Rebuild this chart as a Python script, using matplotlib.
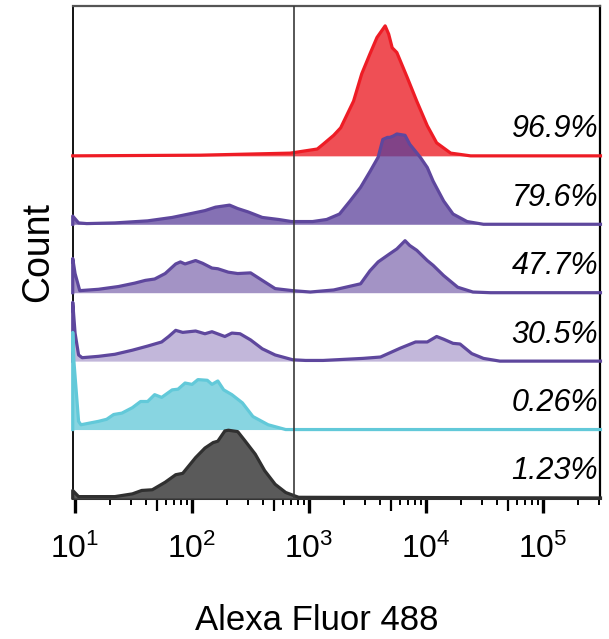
import numpy as np
import matplotlib.pyplot as plt
from matplotlib.ticker import FixedLocator, NullFormatter, LogFormatterSciNotation

plt.rcParams['font.family'] = ['Liberation Sans', 'DejaVu Sans']

# Histogram outlines: x as log10(Alexa Fluor 488), counts scaled to one row height
red_logx = [0.98, 2.07, 2.84, 3.07, 3.12, 3.21, 3.27, 3.38, 3.45, 3.52, 3.58, 3.65,
            3.68, 3.71, 3.75, 3.84, 3.92, 4.01, 4.09, 4.21, 4.38, 5.49]
red_cnt = [0.0, 0.01, 0.04, 0.10, 0.17, 0.30, 0.41, 0.80, 1.20, 1.49, 1.73, 1.90,
           1.78, 1.58, 1.51, 1.14, 0.80, 0.44, 0.19, 0.04, 0.0, 0.0]

pur1_logx = [0.98, 0.98, 1.03, 1.10, 1.34, 1.62, 1.83, 2.00, 2.11, 2.20, 2.32, 2.39,
             2.48, 2.60, 2.74, 2.85, 3.03, 3.15, 3.26, 3.35, 3.44, 3.52, 3.59, 3.63,
             3.67, 3.69, 3.72, 3.75, 3.82, 3.86, 3.95, 4.01, 4.06, 4.15, 4.23, 4.35,
             4.49, 5.49]
pur1_cnt = [0.0, 0.12, 0.02, 0.01, 0.02, 0.05, 0.10, 0.16, 0.20, 0.25, 0.28, 0.23,
            0.18, 0.10, 0.07, 0.04, 0.04, 0.07, 0.15, 0.34, 0.54, 0.77, 0.98, 1.24,
            1.27, 1.27, 1.29, 1.32, 1.30, 1.17, 0.98, 0.83, 0.63, 0.34, 0.15, 0.04,
            0.0, 0.0]

pur2_logx = [0.98, 0.98, 1.00, 1.04, 1.20, 1.37, 1.51, 1.60, 1.68, 1.77, 1.86, 1.90,
             1.94, 2.03, 2.09, 2.17, 2.22, 2.31, 2.39, 2.50, 2.60, 2.71, 2.86, 3.01,
             3.21, 3.44, 3.52, 3.59, 3.69, 3.75, 3.82, 3.86, 3.92, 4.01, 4.06, 4.15,
             4.27, 4.40, 4.55, 5.49]
pur2_cnt = [0.0, 0.50, 0.28, 0.03, 0.05, 0.09, 0.14, 0.18, 0.20, 0.28, 0.42, 0.45,
            0.42, 0.47, 0.43, 0.36, 0.35, 0.30, 0.28, 0.29, 0.18, 0.06, 0.03, 0.01,
            0.04, 0.13, 0.32, 0.45, 0.57, 0.64, 0.76, 0.69, 0.62, 0.47, 0.40, 0.25,
            0.08, 0.01, 0.0, 0.0]

pur3_logx = [0.98, 0.98, 1.00, 1.03, 1.06, 1.20, 1.34, 1.49, 1.62, 1.74, 1.80, 1.86,
             1.92, 2.03, 2.11, 2.17, 2.28, 2.34, 2.41, 2.50, 2.60, 2.71, 2.86, 2.97,
             3.12, 3.46, 3.61, 3.78, 3.91, 4.01, 4.09, 4.15, 4.23, 4.29, 4.39, 4.49,
             4.63, 5.49]
pur3_cnt = [0.0, 0.86, 0.41, 0.09, 0.05, 0.07, 0.10, 0.16, 0.22, 0.28, 0.36, 0.45,
            0.42, 0.44, 0.40, 0.43, 0.36, 0.41, 0.40, 0.31, 0.18, 0.09, 0.02, 0.01,
            0.01, 0.04, 0.06, 0.19, 0.28, 0.28, 0.36, 0.32, 0.26, 0.25, 0.11, 0.04,
            0.0, 0.0]

cyan_logx = [0.98, 0.98, 0.99, 1.03, 1.05, 1.20, 1.27, 1.33, 1.40, 1.49, 1.56, 1.62,
             1.68, 1.74, 1.83, 1.88, 1.94, 2.00, 2.05, 2.13, 2.17, 2.22, 2.27, 2.34,
             2.43, 2.52, 2.65, 2.80, 5.49]
cyan_cnt = [0.0, 1.42, 1.00, 0.12, 0.07, 0.12, 0.15, 0.22, 0.24, 0.32, 0.41, 0.41,
            0.51, 0.47, 0.58, 0.59, 0.68, 0.66, 0.73, 0.72, 0.66, 0.71, 0.58, 0.51,
            0.39, 0.19, 0.07, 0.0, 0.0]

gray_logx = [0.98, 0.98, 1.03, 1.34, 1.49, 1.57, 1.66, 1.77, 1.86, 1.92, 2.03, 2.11,
             2.18, 2.22, 2.28, 2.31, 2.39, 2.45, 2.54, 2.62, 2.71, 2.80, 2.91, 5.49]
gray_cnt = [0.0, 0.11, 0.02, 0.02, 0.06, 0.11, 0.12, 0.23, 0.34, 0.36, 0.59, 0.73,
            0.81, 0.83, 0.98, 0.99, 0.97, 0.84, 0.64, 0.40, 0.20, 0.08, 0.01, 0.0]

percents = ['96.9%', '79.6%', '47.7%', '30.5%', '0.26%', '1.23%']
gate = 740

# top row first so the lower rows are painted over it
rows = [
    (red_logx, red_cnt, '#EE1C25', '#EF4F55', 1.0),
    (pur1_logx, pur1_cnt, '#5E479D', '#5B3F9A', 0.74),
    (pur2_logx, pur2_cnt, '#5E479D', '#A393C5', 1.0),
    (pur3_logx, pur3_cnt, '#5E479D', '#C2B7DA', 1.0),
    (cyan_logx, cyan_cnt, '#62C9D9', '#88D5E1', 1.0),
    (gray_logx, gray_cnt, '#303030', '#5A5A5A', 1.0),
]

fig = plt.figure(figsize=(6.09, 6.39), dpi=100)
ax = fig.add_axes([0.120, 0.2207, 0.8654, 0.7699])
ax.set_xscale('log')

n = len(rows)
for i, (lx, cnt, lc, fc, a) in enumerate(rows):
    base = n - 1 - i
    x = 10 ** np.array(lx)
    y = base + np.array(cnt)
    ax.fill_between(x, base, y, color=fc, alpha=a, lw=0, zorder=2 + 2 * i)
    ax.plot(x, y, color=lc, lw=2.3, solid_joinstyle='round', clip_on=False,
            zorder=3 + 2 * i)
    ax.text(10 ** 5.47, base + 0.27, percents[i], ha='right', va='baseline',
            fontsize=22, style='italic', zorder=20)

ax.axvline(gate, color='#3A3A3A', lw=1.2, zorder=30)

ax.set_xlim(10 ** 0.983, 10 ** 5.487)
ax.set_ylim(0, 7.19)
ax.set_yticks([])

ax.spines['left'].set_linewidth(1.3)
ax.spines['left'].set_color('black')
ax.spines['top'].set_linewidth(1.6)
ax.spines['top'].set_color('#555555')
ax.spines['right'].set_linewidth(1.6)
ax.spines['bottom'].set_linewidth(2.2)
ax.spines['bottom'].set_color('#333333')

ax.xaxis.set_major_locator(FixedLocator([1e1, 1e2, 1e3, 1e4, 1e5]))
ax.xaxis.set_major_formatter(LogFormatterSciNotation())
minor = [m * 10 ** k for k in range(1, 6) for m in (2, 3, 4, 6, 7, 8, 9)]
ax.xaxis.set_minor_locator(FixedLocator(minor))
ax.xaxis.set_minor_formatter(NullFormatter())
ax.tick_params(axis='x', which='major', length=11, width=2.4, color='black',
               pad=15, labelsize=23)
ax.tick_params(axis='x', which='minor', length=5, width=1.4, color='black')

# half-decade ticks are a little longer than the other minor ticks
half = ax.secondary_xaxis('bottom')
half.set_xticks([5 * 10 ** k for k in range(1, 6)])
half.xaxis.set_major_formatter(NullFormatter())
half.tick_params(axis='x', length=9, width=1.6, color='black')
half.spines['bottom'].set_visible(False)

ax.set_xlabel('Alexa Fluor 488', fontsize=25)
ax.xaxis.set_label_coords((317 - 73) / 527, -0.215)
ax.set_ylabel('Count', fontsize=27)
ax.yaxis.set_label_coords(-0.032, 0.5)

fig.savefig('out.png', dpi=100)
